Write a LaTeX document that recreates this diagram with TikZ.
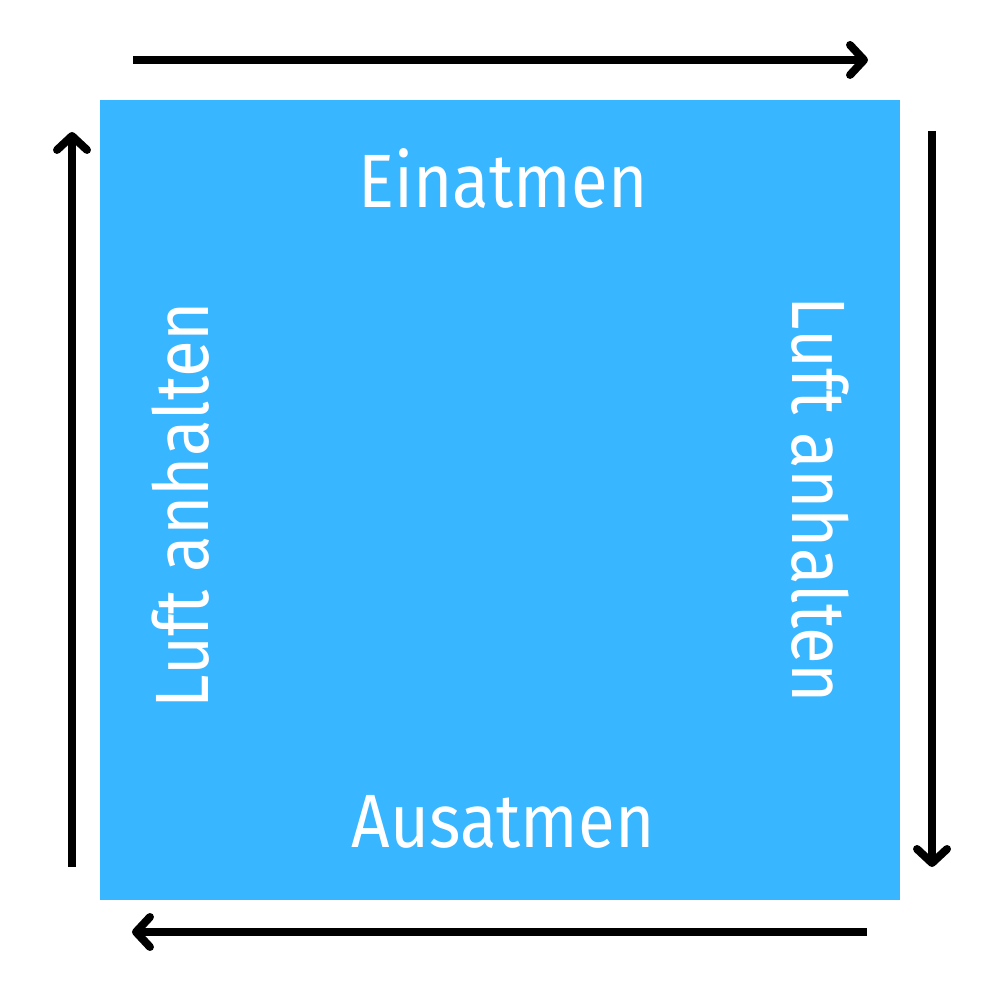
\documentclass[tikz,border=0pt]{standalone}
\usepackage{fontspec}
\setmainfont{Fira Sans}
\newfontfamily\lblfont[FakeStretch=0.89]{Fira Sans}
\usetikzlibrary{arrows.meta}
\definecolor{skyblue}{HTML}{38B6FF}
\tikzset{
  flow/.style={line width=2.27pt, -{Straight Barb[round, length=1.4mm, width=3.0mm]}},
  lbl/.style={text=white, font=\lblfont\fontsize{21.5}{24}\selectfont, inner sep=0pt, anchor=base}
}
\begin{document}
\begin{tikzpicture}
\useasboundingbox (0,0) rectangle (10,10);
\fill[skyblue] (1,1) rectangle (9,9);
\coordinate (t1) at (1.33,9.4); \coordinate (t2) at (8.68,9.4);
\coordinate (r1) at (9.32,8.69); \coordinate (r2) at (9.32,1.33);
\coordinate (b1) at (8.67,0.68); \coordinate (b2) at (1.32,0.68);
\coordinate (l1) at (0.72,1.33); \coordinate (l2) at (0.72,8.68);
\draw[flow] (t1) -- (t2);
\draw[flow] (r1) -- (r2);
\draw[flow] (b1) -- (b2);
\draw[flow] (l1) -- (l2);
\node[lbl] (ein) at (5.03,7.92) {Einatmen};
\node[lbl] (aus) at (5.03,1.52) {Ausatmen};
\node[lbl, rotate=90] (left) at (2.08,4.95) {Luft anhalten};
\node[lbl, rotate=-90] (right) at (7.92,5.0) {Luft anhalten};
\end{tikzpicture}
\end{document}
